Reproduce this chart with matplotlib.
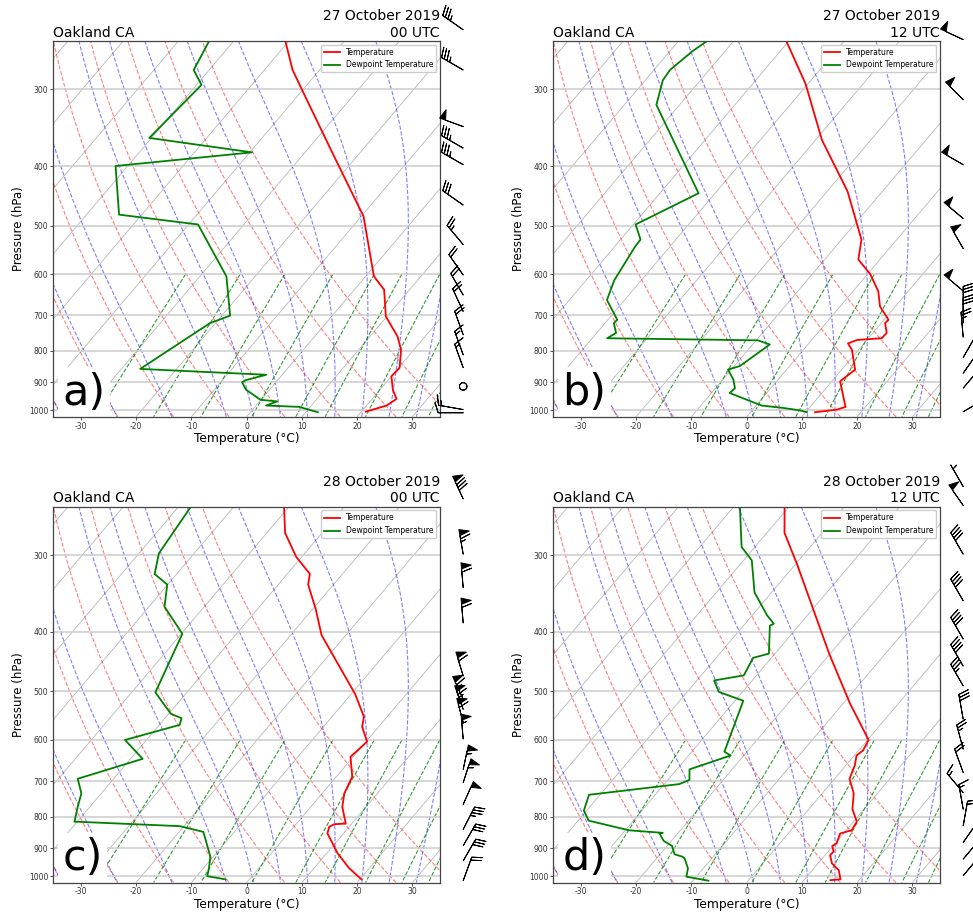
import numpy as np
import matplotlib
matplotlib.use("Agg")
import matplotlib.pyplot as plt
import matplotlib.transforms as mtransforms
from matplotlib.collections import LineCollection
from matplotlib.ticker import NullLocator

plt.rcParams['font.family'] = ['DejaVu Sans']

# ---------------------------------------------------------------- data
STATION = "Oakland CA"
DATES = ["27 October 2019", "27 October 2019", "28 October 2019", "28 October 2019"]
HOURS = ["00 UTC", "12 UTC", "00 UTC", "12 UTC"]
LETTERS = ["a)", "b)", "c)", "d)"]

# (a) 27 Oct 2019 00 UTC
P_T_A = [1005, 982, 958, 925, 880, 853, 797, 758, 703, 636, 605, 483, 377, 305, 279, 251]
T_A = [20.8, 23.6, 24.4, 22.3, 20.0, 20.2, 17.7, 15.0, 9.8, 5.4, 1.5, -9.6, -25.6, -39.2, -44.9, -50.5]
P_TD_A = [1007, 987, 982, 967, 961, 925, 900, 893, 875, 856, 721, 701, 605, 498, 480, 400, 380, 360, 295, 279, 251]
TD_A = [12.2, 8.0, 1.8, 3.2, -0.1, -4.3, -6.1, -5.8, -2.9, -26.6, -21.0, -18.5, -25.2, -38.3, -54.1,
        -62.2, -39.6, -60.4, -59.1, -62.8, -64.4]
WP_A = [240, 279, 345, 374, 398, 463, 537, 602, 649, 690, 753, 812, 852, 914, 997, 1009]
WS_A = [35, 35, 50, 35, 35, 30, 25, 20, 20, 20, 20, 15, 15, 0, 15, 10]
WD_A = [305, 300, 290, 300, 300, 305, 320, 325, 330, 335, 340, 340, 340, 0, 280, 270]

# (b) 27 Oct 2019 12 UTC
P_T_B = [1007, 997, 987, 955, 897, 858, 797, 778, 768, 763, 748, 721, 712, 677, 640, 600, 568, 527,
         440, 363, 294, 251]
T_B = [11.7, 15.3, 16.4, 14.7, 11.5, 12.4, 8.8, 7.1, 8.2, 12.4, 12.5, 10.7, 10.8, 7.2, 4.6, 0.5,
       -3.9, -6.4, -16.3, -28.8, -40.4, -50.3]
P_TD_B = [1007, 1000, 991, 982, 937, 920, 891, 858, 847, 781, 769, 763, 748, 721, 712, 661, 614, 541,
          527, 498, 443, 318, 290, 279, 260, 251]
TD_B = [10.2, 8.7, 5.3, 1.0, -6.7, -6.5, -8.1, -10.6, -9.0, -6.9, -9.7, -37.3, -36.5, -38.4, -38.3,
        -43.2, -44.9, -46.3, -46.4, -49.6, -43.0, -64.2, -66.8, -67.1, -65.9, -64.9]
WP_B = [249, 312, 398, 487, 545, 639, 690, 720, 760, 820, 870, 920, 1005]
WS_B = [50, 50, 50, 50, 50, 50, 30, 30, 25, 25, 25, 20, 10]
WD_B = [295, 315, 300, 310, 330, 310, 0, 0, 355, 30, 35, 40, 60]

# (c) 28 Oct 2019 00 UTC
P_T_C = [1012, 971, 918, 852, 831, 823, 821, 771, 733, 689, 639, 604, 571, 550, 540, 505, 405, 367,
         335, 322, 302, 276, 249]
T_C = [20.3, 16.4, 12.0, 7.1, 6.4, 6.9, 8.9, 5.7, 4.0, 2.9, -0.5, 0.2, -3.0, -4.2, -5.3, -9.3, -24.4,
       -29.5, -34.6, -35.9, -41.0, -46.7, -51.1]
P_TD_C = [1012, 1000, 971, 930, 847, 829, 815, 771, 733, 694, 644, 600, 567, 553, 544, 502, 403, 364,
          335, 322, 298, 249]
TD_C = [-4.3, -8.1, -9.0, -10.5, -15.6, -20.7, -40.5, -42.2, -43.6, -46.5, -37.8, -43.9, -36.3, -37.0,
        -39.6, -45.7, -49.8, -57.2, -60.1, -64.0, -66.4, -67.8]
WP_C = [243, 299, 339, 387, 472, 515, 535, 562, 598, 670, 704, 764, 839, 892, 944, 1017]
WS_C = [80, 65, 60, 60, 60, 65, 65, 60, 55, 55, 55, 50, 35, 30, 30, 20]
WD_C = [335, 350, 355, 355, 343, 335, 340, 345, 355, 12, 18, 24, 27, 30, 30, 20]

# (d) 28 Oct 2019 12 UTC
P_T_D = [1015, 1012, 978, 953, 924, 912, 893, 885, 852, 842, 815, 778, 733, 694, 660, 636, 624, 600,
         523, 434, 310, 276, 249]
T_D = [14.8, 16.5, 14.8, 12.5, 10.9, 11.0, 9.9, 10.3, 9.4, 11.0, 10.6, 7.9, 5.7, 2.7, 1.6, 0.4, 0.8,
       0.2, -8.8, -20.2, -39.8, -46.8, -51.0]
P_TD_D = [1017, 1002, 971, 936, 930, 921, 893, 876, 852, 850, 842, 812, 782, 737, 708, 697, 670, 636,
          627, 518, 501, 480, 471, 441, 434, 391, 388, 376, 345, 306, 291, 249]
TD_D = [-7.2, -11.8, -12.8, -14.9, -15.5, -17.4, -19.1, -21.4, -23.3, -22.8, -29.3, -38.1, -40.5,
        -42.0, -27.3, -26.1, -27.7, -22.4, -24.1, -28.5, -34.3, -36.9, -32.3, -33.3, -31.1, -35.2,
        -34.8, -37.3, -43.1, -48.5, -52.4, -59.1]
WP_D = [232, 249, 299, 356, 411, 455, 490, 555, 621, 678, 731, 778, 828, 881, 938, 998]
WS_D = [5, 50, 40, 40, 40, 40, 35, 30, 25, 20, 15, 15, 15, 20, 25, 25]
WD_D = [330, 325, 330, 330, 330, 330, 330, 350, 345, 340, 320, 350, 10, 35, 40, 40]

PRESSURE_TICKS = [300, 400, 500, 600, 700, 800, 900, 1000]
TEMP_TICKS = [-30, -20, -10, 0, 10, 20, 30]
MIXING_RATIOS = [0.0004, 0.001, 0.002, 0.004, 0.007, 0.01, 0.016, 0.024, 0.032]

# ---------------------------------------------------------------- thermo helpers
RD = 287.04749
CPD = 1004.6662
LV = 2.50084e6
EPS = 0.62195691
KAPPA = RD / CPD

P_TOP, P_BOT = 250.0, 1024.0
T_MIN, T_MAX = -35.0, 35.0
SKEW_DEG = 39.5


def sat_vp(t_k):
    return 6.112 * np.exp(17.67 * (t_k - 273.15) / (t_k - 29.65))


def moist_dtdp(p, t):
    e = sat_vp(t)
    rs = EPS * e / (p - e)
    frac = (RD * t + LV * rs) / (CPD + LV * LV * rs * EPS / (RD * t * t))
    return frac / p


def rk4_path(t0, p_start, p_end, n=300):
    ps = np.linspace(p_start, p_end, n + 1)
    ts = np.empty((n + 1, len(t0)))
    ts[0] = t0
    for i in range(n):
        h = ps[i + 1] - ps[i]
        p = ps[i]
        t = ts[i]
        k1 = moist_dtdp(p, t)
        k2 = moist_dtdp(p + h / 2, t + h / 2 * k1)
        k3 = moist_dtdp(p + h / 2, t + h / 2 * k2)
        k4 = moist_dtdp(p + h, t + h * k3)
        ts[i + 1] = t + h / 6 * (k1 + 2 * k2 + 2 * k3 + k4)
    return ps, ts


def moist_adiabats(t0_c):
    t0 = np.asarray(t0_c, float) + 273.15
    pu, tu = rk4_path(t0, 1000.0, P_TOP, 300)
    pd, td = rk4_path(t0, 1000.0, P_BOT, 20)
    p = np.concatenate([pu[::-1], pd[1:]])
    t = np.concatenate([tu[::-1], td[1:]]) - 273.15
    return p, t


def dewpoint_from_mr(p, w):
    e = p * w / (EPS + w)
    val = np.log(e / 6.112)
    return 243.5 * val / (17.67 - val)


def wind_uv(spd, wdir):
    spd = np.asarray(spd, float)
    rad = np.deg2rad(np.asarray(wdir, float))
    return -spd * np.sin(rad), -spd * np.cos(rad)


# ---------------------------------------------------------------- drawing
def draw_panel(ax, p_t, t, p_td, td, wp, ws, wd, letter, date, hour):
    ax.set_yscale('log')
    ax.set_xlim(T_MIN, T_MAX)
    ax.set_ylim(P_BOT, P_TOP)
    ax.set_autoscale_on(False)
    skew = (ax.transScale + ax.transLimits
            + mtransforms.Affine2D().skew_deg(SKEW_DEG, 0) + ax.transAxes)

    # isotherms (skewed grid)
    iso = np.arange(-90, 41, 10)
    segs = [np.array([[ti, P_BOT], [ti, P_TOP]]) for ti in iso]
    ax.add_collection(LineCollection(segs, colors='#a0a0a0', linewidths=0.6, alpha=0.75,
                                     transform=skew, zorder=0.8), autolim=False)

    # dry adiabats
    pp = np.linspace(P_BOT, P_TOP, 60)
    t0_dry = np.arange(T_MIN, T_MAX + 1, 10)
    segs = [np.column_stack([(t0 + 273.15) * (pp / 1000.0) ** KAPPA - 273.15, pp]) for t0 in t0_dry]
    ax.add_collection(LineCollection(segs, colors='r', linestyles='dashed', linewidths=0.8,
                                     alpha=0.5, transform=skew, zorder=1), autolim=False)

    # moist adiabats
    t0_moist = np.concatenate((np.arange(T_MIN, 0, 10), np.arange(0, T_MAX + 1, 5)))
    pm, tm = moist_adiabats(t0_moist)
    segs = [np.column_stack([tm[:, i], pm]) for i in range(len(t0_moist))]
    ax.add_collection(LineCollection(segs, colors='b', linestyles='dashed', linewidths=0.8,
                                     alpha=0.5, transform=skew, zorder=1), autolim=False)

    # mixing ratio lines
    pw = np.linspace(600, P_BOT, 40)
    segs = [np.column_stack([dewpoint_from_mr(pw, w), pw]) for w in MIXING_RATIOS]
    ax.add_collection(LineCollection(segs, colors='g', linestyles='dashed', linewidths=0.8,
                                     alpha=0.8, transform=skew, zorder=1), autolim=False)

    # profiles
    ax.plot(t, p_t, color='r', lw=1.3, transform=skew, label='Temperature', zorder=2)
    ax.plot(td, p_td, color='g', lw=1.3, transform=skew, label='Dewpoint Temperature', zorder=2)

    # wind barbs outside right edge
    u, v = wind_uv(ws, wd)
    ax.barbs(np.full(len(wp), 1.06), wp, u, v, transform=ax.get_yaxis_transform(),
             clip_on=False, length=6, linewidth=0.7, color='k', zorder=3)

    # axes cosmetics
    ax.set_yticks(PRESSURE_TICKS)
    ax.set_yticklabels([str(v) for v in PRESSURE_TICKS])
    ax.yaxis.set_minor_locator(NullLocator())
    ax.set_xticks(TEMP_TICKS)
    ax.set_xticklabels([str(v) for v in TEMP_TICKS])
    ax.tick_params(labelsize=5.5, length=2, width=0.6, pad=1.5, colors='#333333')
    ax.yaxis.grid(True, color='#cccccc', lw=1.1)
    ax.xaxis.grid(False)
    for s in ax.spines.values():
        s.set_color('#444444')
        s.set_linewidth(0.9)
    ax.set_xlabel('Temperature (°C)', fontsize=8.8, labelpad=1)
    ax.set_ylabel('Pressure (hPa)', fontsize=8.5, labelpad=3)
    ax.set_title(STATION, loc='left', fontsize=10, pad=3)
    ax.set_title(date + "\n" + hour, loc='right', fontsize=10, pad=3)
    ax.legend(loc='upper right', fontsize=5.5, framealpha=1.0, edgecolor='#cccccc')

    ax.text(0.024, 0.032, letter, transform=ax.transAxes, fontsize=31, ha='left', va='baseline',
            zorder=2.4, bbox=dict(boxstyle='square,pad=0.1', fc='white', ec='none'))


fig = plt.figure(figsize=(9.73, 9.13), dpi=100)
W, H = 973.0, 913.0
rects = [
    [53.3 / W, (H - 416.7) / H, 386.7 / W, 376.0 / H],
    [553.3 / W, (H - 416.7) / H, 386.7 / W, 376.0 / H],
    [53.3 / W, (H - 882.5) / H, 386.7 / W, 376.0 / H],
    [553.3 / W, (H - 882.5) / H, 386.7 / W, 376.0 / H],
]
panels = [
    (P_T_A, T_A, P_TD_A, TD_A, WP_A, WS_A, WD_A),
    (P_T_B, T_B, P_TD_B, TD_B, WP_B, WS_B, WD_B),
    (P_T_C, T_C, P_TD_C, TD_C, WP_C, WS_C, WD_C),
    (P_T_D, T_D, P_TD_D, TD_D, WP_D, WS_D, WD_D),
]
for i, (rect, data) in enumerate(zip(rects, panels)):
    ax = fig.add_axes(rect)
    draw_panel(ax, *data, LETTERS[i], DATES[i], HOURS[i])

fig.savefig('out.png', dpi=100)
